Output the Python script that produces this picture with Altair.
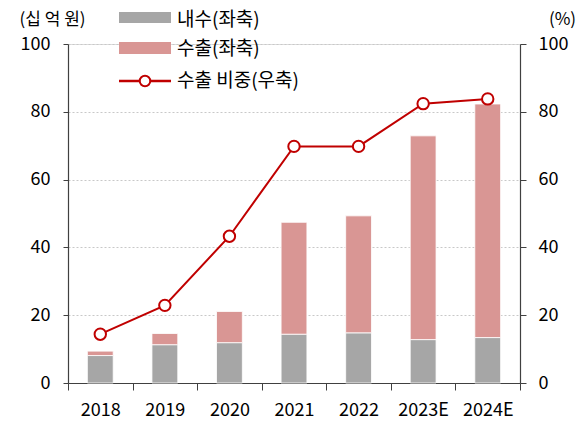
import altair as alt
import pandas as pd

years = ["2018", "2019", "2020", "2021", "2022", "2023E", "2024E"]
domestic = [8.1, 11.3, 11.9, 14.4, 14.8, 12.8, 13.4]
export = [1.3, 3.3, 9.2, 33.0, 34.5, 60.1, 68.9]
share = [14.4, 22.9, 43.3, 69.8, 69.8, 82.4, 83.8]

series_names = ["내수(좌축)", "수출(좌축)", "수출 비중(우축)"]
colors = ["#A6A6A6", "#D99694", "#C00000"]

FONT = "Noto Sans CJK KR"

rows = []
for i, y in enumerate(years):
    rows.append({"year": y, "type": series_names[0], "value": domestic[i], "ord": 0})
    rows.append({"year": y, "type": series_names[1], "value": export[i], "ord": 1})
bar_df = pd.DataFrame(rows)
line_df = pd.DataFrame({"year": years, "share": share})

W, H = 452, 339

xenc = alt.X("year:N", sort=years, title=None,
             scale=alt.Scale(paddingInner=0, paddingOuter=0),
             axis=alt.Axis(labelAngle=0, tickBand="extent", tickSize=7,
                           labelPadding=11, labelFontSize=18, labelFont=FONT,
                           labelColor="#000000", domainColor="#404040",
                           tickColor="#404040", domainWidth=1.2))

bars = alt.Chart(bar_df).mark_bar(width={"band": 0.4}, stroke="#ffffff", strokeWidth=0.8).encode(
    x=xenc,
    y=alt.Y("value:Q", stack="zero",
            scale=alt.Scale(domain=[0, 100], nice=False),
            axis=alt.Axis(values=[0, 20, 40, 60, 80, 100], grid=True,
                          gridDash=[2, 2], gridColor="#C8C8C8",
                          tickSize=5, labelPadding=13, labelFontSize=18,
                          labelFont=FONT, labelColor="#000000",
                          domainColor="#404040", tickColor="#404040",
                          domainWidth=1.2,
                          title="(십 억 원)", titleAngle=0, titleX=-16,
                          titleY=-25, titleAlign="center",
                          titleBaseline="middle", titleFontWeight="normal",
                          titleFontSize=17, titleFont=FONT,
                          titleColor="#000000")),
    color=alt.Color("type:N", scale=alt.Scale(domain=series_names, range=colors), legend=None),
    order=alt.Order("ord:Q"),
)

line_base = alt.Chart(line_df).encode(
    x=alt.X("year:N", sort=years),
    y=alt.Y("share:Q", scale=alt.Scale(domain=[0, 100], nice=False),
            axis=alt.Axis(orient="right", values=[0, 20, 40, 60, 80, 100],
                          grid=False, tickSize=6, labelPadding=12,
                          labelFontSize=18, labelFont=FONT,
                          labelColor="#000000", domainColor="#404040",
                          tickColor="#404040", domainWidth=1.2,
                          title="(%)", titleAngle=0, titleX=42, titleY=-25,
                          titleAlign="center", titleBaseline="middle",
                          titleFontWeight="normal", titleFontSize=17,
                          titleFont=FONT, titleColor="#000000")),
)
line = line_base.mark_line(color="#C00000", strokeWidth=2)
points = line_base.mark_point(filled=True, fill="#ffffff", stroke="#C00000",
                              strokeWidth=2, size=130, opacity=1)

one = pd.DataFrame({"a": [0]})
lx0, lx1 = 51, 103
leg_gray = alt.Chart(one).mark_rect(color=colors[0]).encode(
    x=alt.value(lx0), x2=alt.value(lx1), y=alt.value(-32), y2=alt.value(-21))
leg_pink = alt.Chart(one).mark_rect(color=colors[1]).encode(
    x=alt.value(lx0), x2=alt.value(lx1), y=alt.value(-2), y2=alt.value(10))
leg_line = alt.Chart(one).mark_rule(color=colors[2], strokeWidth=2.5).encode(
    x=alt.value(lx0), x2=alt.value(lx1), y=alt.value(37))
leg_pt = alt.Chart(one).mark_point(filled=True, fill="#ffffff", stroke=colors[2],
                                   strokeWidth=2, size=110, opacity=1).encode(
    x=alt.value(77), y=alt.value(37))

def leg_text(txt, yv):
    return alt.Chart(one).mark_text(align="left", baseline="middle", font=FONT,
                                    fontSize=19, color="#000000", text=txt).encode(
        x=alt.value(109), y=alt.value(yv))

chart = alt.layer(
    bars,
    alt.layer(line, points),
    leg_gray, leg_pink, leg_line, leg_pt,
    leg_text(series_names[0], -24),
    leg_text(series_names[1], 5),
    leg_text(series_names[2], 37),
).resolve_scale(y="independent").properties(
    width=W, height=H,
    autosize=alt.AutoSizeParams(type="none"),
    padding={"left": 60, "top": 36, "right": 60, "bottom": 38},
).configure_view(stroke=None).configure(background="#ffffff")

chart.save("out.html", embed_options={"renderer": "svg", "actions": False})
